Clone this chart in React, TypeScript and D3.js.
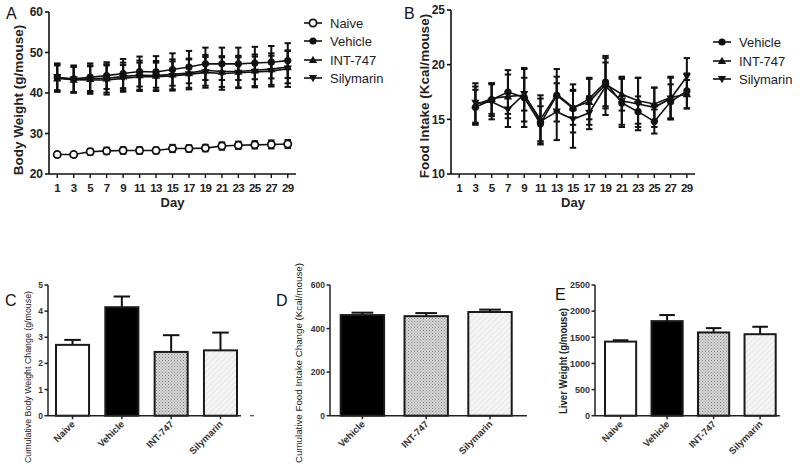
import React from "react";
import * as d3 from "d3";

// ---------- DATA ----------
const daysA = [1, 3, 5, 7, 9, 11, 13, 15, 17, 19, 21, 23, 25, 27, 29];
const naiveA = [24.8, 24.8, 25.5, 25.7, 25.8, 25.8, 25.8, 26.3, 26.3, 26.4, 26.9, 27.1, 27.2, 27.3, 27.4];
const naiveAErr = [0.6, 0.5, 0.7, 0.8, 0.8, 0.8, 0.7, 0.9, 0.8, 0.8, 0.9, 0.9, 0.9, 1.0, 1.0];
const vehicleA = [43.8, 43.5, 43.9, 44.3, 44.8, 45.3, 45.2, 45.8, 46.4, 47.2, 47.2, 47.2, 47.4, 47.6, 48.0];
const vehicleAErr = [3.5, 3.3, 3.4, 3.3, 3.6, 3.7, 3.9, 4.0, 4.0, 4.0, 4.0, 4.0, 4.0, 4.0, 4.3];
const int747A = [43.6, 43.3, 43.5, 43.6, 44.1, 44.4, 44.3, 44.6, 44.9, 45.6, 45.3, 45.3, 45.6, 45.9, 46.4];
const int747AErr = [3.2, 3.2, 3.3, 3.5, 3.4, 3.6, 3.6, 3.7, 3.6, 3.8, 3.8, 3.9, 3.9, 3.9, 4.0];
const silymarinA = [43.9, 43.3, 43.2, 43.2, 43.6, 44.0, 44.0, 44.2, 44.6, 45.1, 44.8, 45.0, 45.2, 45.4, 46.0];
const silymarinAErr = [3.2, 3.2, 3.4, 3.6, 3.3, 3.5, 3.5, 3.6, 3.7, 3.8, 4.0, 3.8, 3.8, 3.8, 4.5];
const yTicksA = [20, 30, 40, 50, 60];

const daysB = [3, 5, 7, 9, 11, 13, 15, 17, 19, 21, 23, 25, 27, 29];
const vehicleB = [16.1, 16.8, 17.5, 17.0, 14.6, 17.2, 16.0, 16.9, 18.4, 16.5, 15.7, 14.8, 16.6, 17.6];
const vehicleBErr = [1.6, 1.5, 2.0, 2.7, 1.6, 2.4, 2.2, 1.9, 2.4, 2.2, 1.4, 1.1, 1.6, 1.6];
const int747B = [16.3, 16.9, 17.1, 17.2, 15.0, 17.3, 16.1, 16.6, 18.2, 17.3, 16.7, 16.4, 17.0, 17.3];
const int747BErr = [1.7, 1.4, 2.0, 2.4, 2.2, 1.6, 1.6, 2.1, 2.0, 1.5, 2.1, 1.5, 1.9, 1.3];
const silymarinB = [16.5, 16.6, 15.9, 17.3, 14.8, 15.7, 15.0, 15.6, 18.0, 16.7, 16.4, 16.1, 16.9, 18.9];
const silymarinBErr = [1.8, 1.6, 1.6, 1.5, 2.1, 2.6, 2.6, 1.5, 2.6, 2.2, 2.4, 1.8, 1.9, 1.7];
const yTicksB = [10, 15, 20, 25];
const xTickDays = [1, 3, 5, 7, 9, 11, 13, 15, 17, 19, 21, 23, 25, 27, 29];

const catsC = ["Naive", "Vehicle", "INT-747", "Silymarin"];
const valuesC = [2.71, 4.15, 2.44, 2.5];
const errC = [0.19, 0.41, 0.64, 0.68];
const yTicksC = [0, 1, 2, 3, 4, 5];

const catsD = ["Vehicle", "INT-747", "Silymarin"];
const valuesD = [462, 457, 476];
const errD = [11, 14, 11];
const yTicksD = [0, 200, 400, 600];

const catsE = ["Naive", "Vehicle", "INT-747", "Silymarin"];
const valuesE = [1417, 1809, 1593, 1559];
const errE = [26, 116, 82, 142];
const yTicksE = [0, 500, 1000, 1500, 2000, 2500];

// ---------- STYLE ----------
const FONT = "'Liberation Sans', Arial, Helvetica, sans-serif";
const INK = "#111";

type Shape = "openCircle" | "circle" | "up" | "down";

function Marker({ x, y, shape, s = 3.6 }: { x: number; y: number; shape: Shape; s?: number }) {
  if (shape === "openCircle")
    return <circle cx={x} cy={y} r={s} fill="#fff" stroke={INK} strokeWidth={1.8} />;
  if (shape === "circle") return <circle cx={x} cy={y} r={s} fill={INK} />;
  const h = s * 1.15;
  if (shape === "up")
    return <path d={`M${x},${y - h} L${x + h},${y + h * 0.75} L${x - h},${y + h * 0.75} Z`} fill={INK} />;
  return <path d={`M${x},${y + h} L${x + h},${y - h * 0.75} L${x - h},${y - h * 0.75} Z`} fill={INK} />;
}

type Series = { name: string; days: number[]; vals: number[]; errs: number[]; shape: Shape };

function LinePanel(props: {
  letter: string;
  letterX: number;
  series: Series[];
  xRange: [number, number];
  yRange: [number, number];
  yDomain: [number, number];
  yTicks: number[];
  yTitle: string;
  yTitleX: number;
  yTitleY: number;
  legendX: number;
  legendY: number[];
}) {
  const { series, xRange, yRange, yDomain, yTicks } = props;
  const x = d3.scaleLinear().domain([0, 30]).range(xRange);
  const y = d3.scaleLinear().domain(yDomain).range(yRange);
  const line = d3
    .line<[number, number]>()
    .x((d) => x(d[0]))
    .y((d) => y(d[1]));
  const x0 = xRange[0];
  const yb = yRange[0];
  return (
    <g>
      <text x={props.letterX} y={19} fontSize={16} fontFamily={FONT} fill={INK}>
        {props.letter}
      </text>
      <line x1={x0} x2={x0} y1={yRange[1]} y2={yb} stroke={INK} strokeWidth={1.6} />
      <line x1={x0} x2={xRange[1]} y1={yb} y2={yb} stroke={INK} strokeWidth={1.6} />
      {yTicks.map((t) => (
        <g key={t}>
          <line x1={x0 - 4} x2={x0} y1={y(t)} y2={y(t)} stroke={INK} strokeWidth={1.6} />
          <text x={x0 - 6} y={y(t) + 4.2} fontSize={12} fontWeight="bold" textAnchor="end" fontFamily={FONT} fill="#222">
            {t}
          </text>
        </g>
      ))}
      {xTickDays.map((t) => (
        <g key={t}>
          <line x1={x(t)} x2={x(t)} y1={yb} y2={yb + 4} stroke={INK} strokeWidth={1.4} />
          <text x={x(t)} y={yb + 18} fontSize={11.5} fontWeight="bold" textAnchor="middle" fontFamily={FONT} fill="#222" letterSpacing={-0.6}>
            {t}
          </text>
        </g>
      ))}
      <text x={(x0 + xRange[1]) / 2} y={yb + 33} fontSize={13} fontWeight="bold" textAnchor="middle" fontFamily={FONT} fill="#222">
        Day
      </text>
      <text
        transform={`translate(${props.yTitleX},${props.yTitleY}) rotate(-90)`}
        fontSize={13.5}
        fontWeight="bold"
        textAnchor="middle"
        fontFamily={FONT}
        fill="#222"
      >
        {props.yTitle}
      </text>
      {series.map((s) =>
        s.days.map((d, i) => {
          const cx = x(d);
          const top = y(s.vals[i] + s.errs[i]);
          const bot = y(s.vals[i] - s.errs[i]);
          return (
            <g key={s.name + d} stroke={INK} strokeWidth={2}>
              <line x1={cx} x2={cx} y1={top} y2={bot} />
              <line x1={cx - 3.2} x2={cx + 3.2} y1={top} y2={top} />
              <line x1={cx - 3.2} x2={cx + 3.2} y1={bot} y2={bot} />
            </g>
          );
        })
      )}
      {series.map((s) => (
        <path
          key={s.name}
          d={line(s.days.map((d, i) => [d, s.vals[i]] as [number, number])) || ""}
          fill="none"
          stroke={INK}
          strokeWidth={1.6}
        />
      ))}
      {series.map((s) => s.days.map((d, i) => <Marker key={s.name + d} x={x(d)} y={y(s.vals[i])} shape={s.shape} />))}
      {series.map((s, i) => (
        <g key={s.name}>
          <line x1={props.legendX} x2={props.legendX + 18} y1={props.legendY[i]} y2={props.legendY[i]} stroke={INK} strokeWidth={1.6} />
          <Marker x={props.legendX + 9} y={props.legendY[i]} shape={s.shape} />
          <text x={props.legendX + 26} y={props.legendY[i] + 4.5} fontSize={13} fontFamily={FONT} fill="#222">
            {s.name}
          </text>
        </g>
      ))}
    </g>
  );
}

const FILLS: Record<string, string> = {
  Naive: "#ffffff",
  Vehicle: "#000000",
  "INT-747": "url(#stipple)",
  Silymarin: "url(#hatch)",
};

function BarPanel(props: {
  letter: string;
  letterX: number;
  letterY: number;
  cats: string[];
  vals: number[];
  errs: number[];
  yDomain: [number, number];
  yTicks: number[];
  axisX: number;
  axisEnd: number;
  barStart: number;
  barEnd: number;
  pad: number;
  yTitle: string;
  yTitleX: number;
  yTitleY: number;
  yTitleSize: number;
  yTitleLen: number;
  yTitleBold: boolean;
  tickSize: number;
}) {
  const yTop = 285;
  const yBot = 415.7;
  const y = d3.scaleLinear().domain(props.yDomain).range([yBot, yTop]);
  const x = d3.scaleBand<string>().domain(props.cats).range([props.barStart, props.barEnd]).paddingInner(props.pad).paddingOuter(0);
  const bw = x.bandwidth();
  return (
    <g>
      <text x={props.letterX} y={props.letterY} fontSize={16} fontFamily={FONT} fill={INK}>
        {props.letter}
      </text>
      {props.cats.map((c, i) => {
        const bx = x(c) as number;
        const top = y(props.vals[i]);
        const et = y(props.vals[i] + props.errs[i]);
        const cx = bx + bw / 2;
        return (
          <g key={c}>
            <line x1={cx} x2={cx} y1={top} y2={et} stroke={INK} strokeWidth={2} />
            <line x1={cx - bw * 0.25} x2={cx + bw * 0.25} y1={et} y2={et} stroke={INK} strokeWidth={2} />
            <rect x={bx} y={top} width={bw} height={yBot - top} fill={FILLS[c]} stroke="#1a1a1a" strokeWidth={2} />
          </g>
        );
      })}
      <line x1={props.axisX} x2={props.axisX} y1={yTop} y2={yBot} stroke="#222" strokeWidth={1.5} />
      <line x1={props.axisX} x2={props.axisEnd} y1={yBot} y2={yBot} stroke="#222" strokeWidth={1.5} />
      {props.yTicks.map((t) => (
        <g key={t}>
          <line x1={props.axisX - 3.5} x2={props.axisX} y1={y(t)} y2={y(t)} stroke="#222" strokeWidth={1.5} />
          <text x={props.axisX - 5} y={y(t) + props.tickSize * 0.36} fontSize={props.tickSize} fontWeight="bold" textAnchor="end" fontFamily={FONT} fill="#333">
            {t}
          </text>
        </g>
      ))}
      {props.cats.map((c) => {
        const cx = (x(c) as number) + bw / 2;
        return (
          <g key={c}>
            <line x1={cx} x2={cx} y1={yBot} y2={yBot + 3.5} stroke="#222" strokeWidth={1.5} />
            <text
              transform={`translate(${cx + 3},${yBot + 9}) rotate(-45)`}
              fontSize={9.5}
              fontWeight="bold"
              textAnchor="end"
              fontFamily={FONT}
              fill="#333"
            >
              {c}
            </text>
          </g>
        );
      })}
      <text
        transform={`translate(${props.yTitleX},${props.yTitleY}) rotate(-90)`}
        fontSize={props.yTitleSize}
        fontWeight={props.yTitleBold ? "bold" : "normal"}
        textAnchor="middle"
        fontFamily={FONT}
        fill="#222"
        textLength={props.yTitleLen}
        lengthAdjust="spacingAndGlyphs"
      >
        {props.yTitle}
      </text>
    </g>
  );
}

export default function App() {
  const seriesA: Series[] = [
    { name: "Naive", days: daysA, vals: naiveA, errs: naiveAErr, shape: "openCircle" },
    { name: "Vehicle", days: daysA, vals: vehicleA, errs: vehicleAErr, shape: "circle" },
    { name: "INT-747", days: daysA, vals: int747A, errs: int747AErr, shape: "up" },
    { name: "Silymarin", days: daysA, vals: silymarinA, errs: silymarinAErr, shape: "down" },
  ];
  const seriesB: Series[] = [
    { name: "Vehicle", days: daysB, vals: vehicleB, errs: vehicleBErr, shape: "circle" },
    { name: "INT-747", days: daysB, vals: int747B, errs: int747BErr, shape: "up" },
    { name: "Silymarin", days: daysB, vals: silymarinB, errs: silymarinBErr, shape: "down" },
  ];
  return (
    <svg width={800} height={471} style={{ position: "absolute", left: 0, top: 0, background: "#fff" }}>
      <defs>
        <pattern id="stipple" width={3} height={3} patternUnits="userSpaceOnUse">
          <rect width={3} height={3} fill="#d6d6d6" />
          <rect x={0} y={0} width={1} height={1} fill="#888" />
          <rect x={1.5} y={1.5} width={1} height={1} fill="#999" />
        </pattern>
        <pattern id="hatch" width={4} height={4} patternUnits="userSpaceOnUse" patternTransform="rotate(45)">
          <rect width={4} height={4} fill="#f4f4f4" />
          <line x1={0} y1={0} x2={0} y2={4} stroke="#d8d8d8" strokeWidth={1} />
        </pattern>
      </defs>
      <rect width={800} height={471} fill="#fff" />
      <LinePanel
        letter="A"
        letterX={6}
        series={seriesA}
        xRange={[49, 296]}
        yRange={[174, 12]}
        yDomain={[20, 60]}
        yTicks={yTicksA}
        yTitle="Body Weight (g/mouse)"
        yTitleX={23}
        yTitleY={100}
        legendX={304}
        legendY={[23, 41, 60, 78]}
      />
      <LinePanel
        letter="B"
        letterX={404}
        series={seriesB}
        xRange={[451, 695]}
        yRange={[174, 10]}
        yDomain={[10, 25]}
        yTicks={yTicksB}
        yTitle="Food Intake (Kcal/mouse)"
        yTitleX={429}
        yTitleY={96}
        legendX={713}
        legendY={[42, 61, 79]}
      />
      <BarPanel
        letter="C"
        letterX={5}
        letterY={306}
        cats={catsC}
        vals={valuesC}
        errs={errC}
        yDomain={[0, 5]}
        yTicks={yTicksC}
        axisX={48}
        axisEnd={241}
        barStart={56}
        barEnd={237}
        pad={0.33}
        yTitle="Cumulative Body Weight Change (g/mouse)"
        yTitleX={31}
        yTitleY={377}
        yTitleSize={9.5}
        yTitleLen={172}
        yTitleBold={false}
        tickSize={8.5}
      />
      <line x1={250} x2={254} y1={415.7} y2={415.7} stroke="#444" strokeWidth={1.2} />
      <BarPanel
        letter="D"
        letterX={276}
        letterY={306}
        cats={catsD}
        vals={valuesD}
        errs={errD}
        yDomain={[0, 600]}
        yTicks={yTicksD}
        axisX={330}
        axisEnd={527}
        barStart={340.7}
        barEnd={511.7}
        pad={0.32}
        yTitle="Cumulative Food Intake Change (Kcal/mouse)"
        yTitleX={302}
        yTitleY={363}
        yTitleSize={9.5}
        yTitleLen={200}
        yTitleBold={false}
        tickSize={8.5}
      />
      <BarPanel
        letter="E"
        letterX={555}
        letterY={300}
        cats={catsE}
        vals={valuesE}
        errs={errE}
        yDomain={[0, 2500]}
        yTicks={yTicksE}
        axisX={595}
        axisEnd={780}
        barStart={605}
        barEnd={775.7}
        pad={0.33}
        yTitle="Liver Weight (g/mouse)"
        yTitleX={567}
        yTitleY={361}
        yTitleSize={11.5}
        yTitleLen={106}
        yTitleBold={true}
        tickSize={9}
      />
    </svg>
  );
}
